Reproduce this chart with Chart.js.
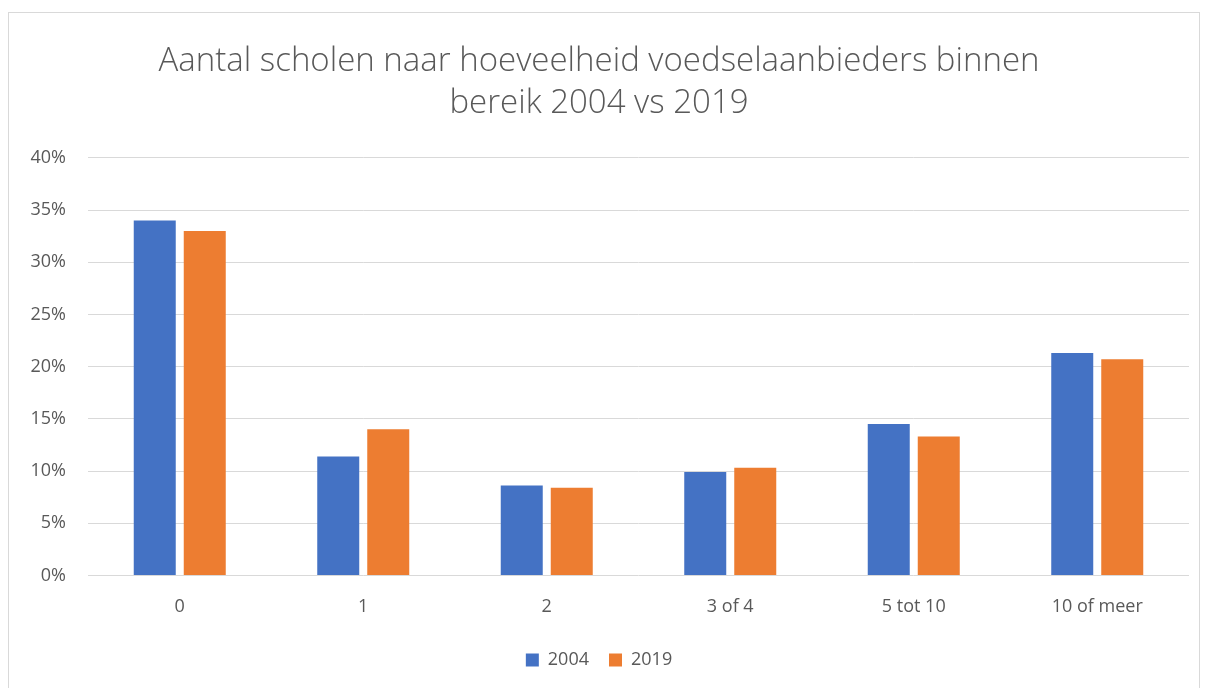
<!DOCTYPE html>
<html>
<head>
<meta charset="utf-8">
<script src="https://cdn.jsdelivr.net/npm/chart.js@4"></script>
<style>
  html, body { margin: 0; padding: 0; background: #fff; }
  #frame {
    position: absolute; left: 8px; top: 12px;
    width: 1190px; height: 690px;
    border: 1px solid #d9d9d9;
  }
  #chart { display: block; }
</style>
</head>
<body>
<div id="frame"><canvas id="chart" width="1190" height="676"></canvas></div>
<script>
// Data
const categories = ['0', '1', '2', '3 of 4', '5 tot 10', '10 of meer'];
const values2004 = [34.0, 11.4, 8.6, 9.9, 14.5, 21.3];
const values2019 = [33.0, 14.0, 8.4, 10.3, 13.3, 20.7];
const seriesNames = ['2004', '2019'];
const titleLines = ['Aantal scholen naar hoeveelheid voedselaanbieders binnen', 'bereik 2004 vs 2019'];

const textColor = '#595959';
const gridColor = '#d9d9d9';
const FONT = "'Open Sans', 'Liberation Sans', sans-serif";

const ctx = document.getElementById('chart').getContext('2d');
const chart = new Chart(ctx, {
    type: 'bar',
    data: {
        labels: categories,
        datasets: [
            {
                label: seriesNames[0],
                data: values2004,
                backgroundColor: '#4472c4',
                categoryPercentage: 0.545,
                barPercentage: 0.84
            },
            {
                label: seriesNames[1],
                data: values2019,
                backgroundColor: '#ed7d31',
                categoryPercentage: 0.545,
                barPercentage: 0.84
            }
        ]
    },
    options: {
        responsive: false,
        animation: false,
        layout: { padding: { left: 0, right: 10, top: 28, bottom: 10 } },
        plugins: {
            title: {
                display: true,
                text: titleLines,
                color: textColor,
                font: { family: FONT, size: 33, weight: '300', lineHeight: 1.27 },
                padding: { top: 0, bottom: 33 }
            },
            legend: {
                position: 'bottom',
                labels: {
                    color: textColor,
                    font: { family: FONT, size: 18 },
                    boxWidth: 13,
                    boxHeight: 13,
                    padding: 20
                }
            },
            tooltip: { enabled: false }
        },
        scales: {
            x: {
                grid: { display: false },
                border: { display: false },
                ticks: { color: textColor, font: { family: FONT, size: 18 }, padding: 13 }
            },
            y: {
                min: 0,
                max: 40,
                ticks: {
                    stepSize: 5,
                    color: textColor,
                    font: { family: FONT, size: 18 },
                    padding: 22,
                    callback: v => v + '%'
                },
                grid: { color: gridColor, drawTicks: false, lineWidth: 1 },
                border: { display: false },
                afterFit: scale => { scale.width = 79; }
            }
        }
    }
});
</script>
</body>
</html>
